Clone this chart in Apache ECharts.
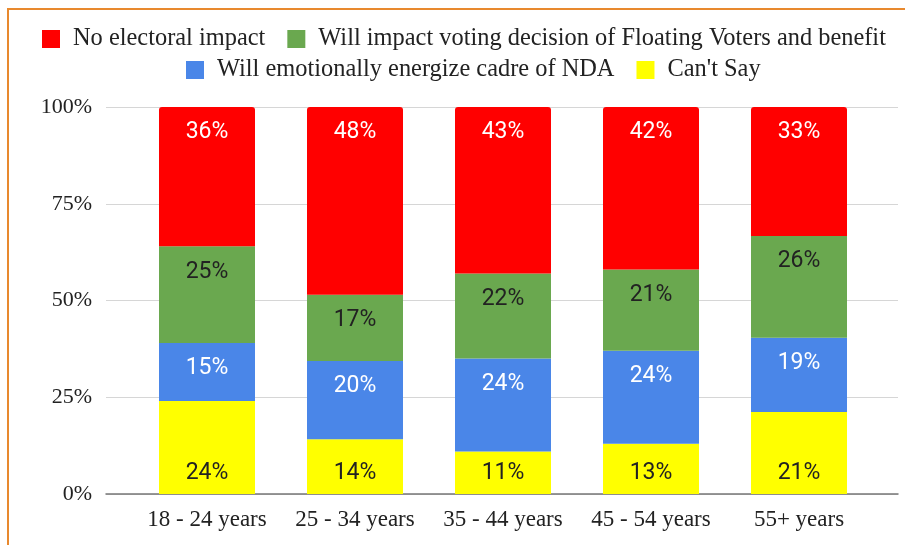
<!DOCTYPE html>
<html>
<head>
<meta charset="utf-8">
<script src="https://cdn.jsdelivr.net/npm/echarts@6/dist/echarts.min.js"></script>
<style>
    html, body {
        margin: 0;
        padding: 0;
        background: #fff;
    }
    #chart {
        position: absolute;
        left: 0;
        top: 0;
        width: 905px;
        height: 545px;
    }
    /* orange frame of the sheet's chart box */
    .frame {
        position: absolute;
        left: 7px;
        top: 8px;
        width: 920px;
        height: 560px;
        border-top: 2px solid #e8892e;
        border-left: 2px solid #e8892e;
        pointer-events: none;
    }
</style>
</head>
<body>
<div id="chart"></div>
<div class="frame"></div>
<script>
const categories = ['18 - 24 years', '25 - 34 years', '35 - 44 years', '45 - 54 years', '55+ years'];
const noImpact = [36, 48, 43, 42, 33];
const floatingVoters = [25, 17, 22, 21, 26];
const energizeCadre = [15, 20, 24, 24, 19];
const cantSay = [24, 14, 11, 13, 21];
const yTicks = [0, 25, 50, 75, 100];

const seriesNames = [
    'No electoral impact',
    'Will impact voting decision of Floating Voters and benefit',
    'Will emotionally energize cadre of NDA',
    "Can't Say"
];

// 100% stacked: each column is scaled to its own total
const totals = categories.map((c, i) => noImpact[i] + floatingVoters[i] + energizeCadre[i] + cantSay[i]);
const share = arr => arr.map((v, i) => v / totals[i] * 100);

const serif = 'Liberation Serif';

function barSeries(name, raw, color, labelColor, pos, dist, radius) {
    return {
        name: name,
        type: 'bar',
        stack: 'total',
        xAxisIndex: 1,
        yAxisIndex: 1,
        barWidth: 96,
        data: share(raw),
        itemStyle: {
            color: color,
            borderRadius: radius || 0
        },
        label: {
            show: true,
            position: pos,
            distance: dist,
            color: labelColor,
            fontFamily: 'Roboto',
            fontSize: 23,
            formatter: p => raw[p.dataIndex] + '%'
        }
    };
}

const legendText = {
    fontFamily: serif,
    fontSize: 24.4,
    color: '#222',
    padding: [0, 0, 0, 8]
};

const option = {
    animation: false,
    legend: [
        {
            data: [seriesNames[0], seriesNames[1]],
            left: 37,
            top: 22,
            itemWidth: 18,
            itemHeight: 18,
            itemGap: 22,
            icon: 'rect',
            textStyle: legendText
        },
        {
            data: [seriesNames[2], seriesNames[3]],
            left: 181,
            top: 53,
            itemWidth: 18,
            itemHeight: 18,
            itemGap: 22,
            icon: 'rect',
            textStyle: legendText
        }
    ],
    grid: [
        // gridlines + baseline span the wide area
        { left: 106, right: 7, top: 107, bottom: 51 },
        // bars sit in the inner area
        { left: 133, right: 32, top: 107, bottom: 51 }
    ],
    xAxis: [
        {
            gridIndex: 0,
            type: 'category',
            data: categories,
            axisLine: { lineStyle: { color: '#777', width: 1.5 } },
            axisTick: { show: false },
            axisLabel: { show: false }
        },
        {
            gridIndex: 1,
            type: 'category',
            data: categories,
            axisLine: { show: false },
            axisTick: { show: false },
            axisLabel: {
                interval: 0,
                hideOverlap: false,
                margin: 14,
                fontFamily: serif,
                fontSize: 23,
                color: '#222'
            }
        }
    ],
    yAxis: [
        {
            gridIndex: 0,
            type: 'value',
            min: yTicks[0],
            max: yTicks[yTicks.length - 1],
            interval: yTicks[1] - yTicks[0],
            axisLine: { show: false },
            axisTick: { show: false },
            splitLine: { lineStyle: { color: '#d6d6d6', width: 1 } },
            axisLabel: {
                margin: 14,
                fontFamily: serif,
                fontSize: 22,
                color: '#222',
                formatter: '{value}%'
            }
        },
        {
            gridIndex: 1,
            type: 'value',
            min: yTicks[0],
            max: yTicks[yTicks.length - 1],
            show: false,
            splitLine: { show: false }
        }
    ],
    series: [
        barSeries(seriesNames[3], cantSay, '#ffff00', '#222', 'insideBottom', 9),
        barSeries(seriesNames[2], energizeCadre, '#4a86e8', '#fff', 'insideTop', 14),
        barSeries(seriesNames[1], floatingVoters, '#6aa84f', '#222', 'insideTop', 14),
        barSeries(seriesNames[0], noImpact, '#ff0000', '#fff', 'insideTop', 14, [3, 3, 0, 0])
    ]
};

const chart = echarts.init(document.getElementById('chart'));
chart.setOption(option);
window.addEventListener('resize', () => {
    chart.resize();
});
</script>
</body>
</html>
